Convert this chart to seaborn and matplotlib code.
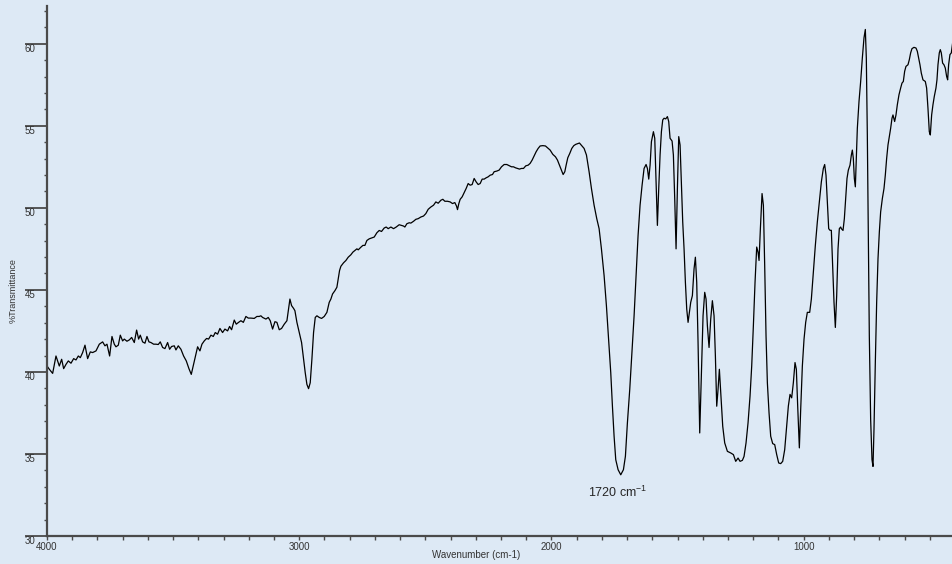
import numpy as np
import pandas as pd
import matplotlib
matplotlib.use("Agg")
import matplotlib.pyplot as plt
from matplotlib.ticker import MultipleLocator
import seaborn as sns

# spectrum, one block per region (cm-1, %T)
wn_oh = [4000.0, 3990.8, 3977.6, 3964.4, 3951.2, 3941.9, 3934.0, 3924.7, 3915.5, 3904.9,
         3894.3, 3885.1, 3875.8, 3867.9, 3858.7, 3849.4, 3838.9, 3828.3, 3819.0, 3805.8,
         3792.6, 3779.4, 3770.2, 3762.2, 3751.7, 3742.4, 3733.2, 3726.6, 3717.3, 3709.4,
         3700.2, 3693.6, 3683.0, 3673.7, 3664.5, 3653.9, 3644.7, 3636.7, 3630.2, 3620.9,
         3611.6, 3603.7, 3595.8, 3587.9, 3577.3, 3568.1, 3558.8, 3550.9, 3541.6, 3532.4,
         3521.8, 3513.9, 3506.0, 3495.4, 3488.8, 3479.5, 3469.0, 3458.4, 3447.8, 3437.3,
         3428.0, 3418.8, 3409.5, 3402.9, 3393.7, 3385.7, 3376.5, 3367.3, 3359.3, 3350.1,
         3340.8, 3332.9, 3323.7, 3314.4, 3303.9, 3294.6, 3284.0, 3276.1, 3268.2, 3257.6,
         3249.7, 3240.5, 3231.2, 3221.6, 3211.4, 3202.1, 3191.6, 3178.4, 3167.8, 3158.6,
         3152.0]
tr_oh = [40.36, 40.16, 39.91, 40.97, 40.36, 40.77, 40.20, 40.46, 40.67, 40.53,
         40.81, 40.73, 40.97, 40.87, 41.18, 41.63, 40.81, 41.22, 41.18, 41.28,
         41.69, 41.83, 41.59, 41.69, 40.97, 42.16, 41.69, 41.53, 41.63, 42.24,
         41.89, 42.00, 41.87, 41.95, 42.10, 41.79, 42.55, 42.00, 42.24, 41.83,
         41.75, 42.16, 41.83, 41.79, 41.69, 41.69, 41.67, 41.83, 41.49, 41.42,
         41.79, 41.38, 41.55, 41.59, 41.34, 41.59, 41.38, 40.97, 40.67, 40.20,
         39.85, 40.46, 41.08, 41.53, 41.28, 41.69, 41.89, 42.04, 42.00, 42.24,
         42.16, 42.40, 42.30, 42.65, 42.40, 42.61, 42.50, 42.77, 42.57, 43.16,
         42.91, 43.02, 43.12, 43.02, 43.38, 43.28, 43.28, 43.26, 43.38, 43.38,
         43.42]

wn_ch = [3145.3, 3132.1, 3122.8, 3114.9, 3105.6, 3096.4, 3088.5, 3079.2, 3070.0, 3059.4,
         3048.8, 3043.5, 3036.9, 3030.3, 3022.4, 3017.1, 3009.2, 3000.0, 2990.7, 2982.8,
         2976.2, 2969.6, 2963.0, 2956.4, 2949.8, 2943.2, 2936.5, 2929.9, 2920.7, 2911.4,
         2900.9, 2890.3, 2881.1, 2874.5, 2867.9, 2858.6, 2850.7, 2845.4, 2840.1, 2834.8,
         2824.3, 2815.0, 2805.8, 2795.2, 2787.3, 2779.4, 2771.4, 2766.1, 2755.6, 2747.6,
         2739.7, 2731.8, 2722.5, 2713.3, 2702.7, 2692.2, 2682.9, 2673.7, 2663.1, 2655.2,
         2647.3, 2636.7, 2626.1, 2615.5, 2603.7, 2594.4, 2586.5, 2581.2, 2573.3, 2564.0,
         2557.4]
tr_ch = [43.32, 43.22, 43.32, 43.12, 42.61, 43.06, 43.02, 42.57, 42.65, 42.91,
         43.12, 43.73, 44.44, 44.04, 43.87, 43.73, 43.02, 42.40, 41.79, 40.77,
         39.95, 39.24, 38.98, 39.34, 40.77, 42.40, 43.32, 43.42, 43.32, 43.26,
         43.38, 43.63, 44.24, 44.44, 44.75, 44.95, 45.16, 45.67, 46.18, 46.44,
         46.65, 46.79, 46.99, 47.14, 47.30, 47.40, 47.50, 47.44, 47.60, 47.71,
         47.71, 48.01, 48.11, 48.16, 48.22, 48.48, 48.62, 48.56, 48.77, 48.83,
         48.73, 48.83, 48.73, 48.83, 48.97, 48.93, 48.89, 48.83, 49.03, 49.09,
         49.07]

wn_mid = [2546.9, 2537.6, 2528.4, 2517.8, 2507.2, 2498.0, 2488.7, 2478.2, 2467.6, 2458.4,
          2449.1, 2438.6, 2430.6, 2422.7, 2412.1, 2401.6, 2392.3, 2383.1, 2376.5, 2372.5,
          2367.2, 2361.9, 2354.0, 2346.1, 2338.2, 2330.2, 2322.3, 2314.4, 2306.5, 2298.5,
          2290.6, 2282.7, 2274.7, 2266.8, 2258.9, 2251.0, 2243.0, 2233.8, 2227.2, 2216.6,
          2207.4, 2198.1, 2187.6, 2177.0, 2166.4, 2158.5, 2150.6, 2142.7, 2134.7, 2126.8,
          2118.9, 2110.9, 2101.7, 2092.4, 2084.5, 2076.6, 2068.7, 2060.7, 2052.8, 2044.9,
          2034.3, 2023.8, 2015.8, 2005.3, 1994.7, 1984.1, 1976.2, 1968.3, 1960.4, 1953.7,
          1947.1, 1941.8, 1935.3, 1927.3, 1919.4, 1911.5, 1903.5, 1895.6, 1889.0, 1882.4]
tr_mid = [49.18, 49.30, 49.34, 49.44, 49.50, 49.65, 49.91, 50.05, 50.16, 50.36,
          50.28, 50.46, 50.52, 50.40, 50.40, 50.36, 50.26, 50.32, 50.11, 49.89,
          50.26, 50.52, 50.67, 50.93, 51.18, 51.48, 51.38, 51.42, 51.79, 51.58,
          51.42, 51.48, 51.75, 51.75, 51.83, 51.89, 51.99, 52.03, 52.20, 52.24,
          52.30, 52.50, 52.64, 52.64, 52.56, 52.50, 52.50, 52.44, 52.40, 52.36,
          52.40, 52.40, 52.56, 52.60, 52.71, 52.91, 53.17, 53.42, 53.62, 53.77,
          53.79, 53.77, 53.66, 53.52, 53.26, 53.11, 52.91, 52.60, 52.30, 52.03,
          52.20, 52.60, 53.05, 53.32, 53.62, 53.79, 53.87, 53.91, 53.95, 53.83]

wn_co = [1870.6, 1861.3, 1850.8, 1841.5, 1831.0, 1820.4, 1811.1, 1801.9, 1791.3, 1782.1,
         1772.8, 1764.9, 1758.3, 1751.7, 1745.1, 1735.8, 1725.3, 1714.7, 1706.8, 1698.9,
         1689.6, 1681.7, 1672.4, 1664.5, 1656.6, 1648.7, 1640.7, 1632.8, 1624.9, 1619.6,
         1614.3, 1609.0, 1603.7, 1595.8, 1590.5, 1585.3, 1580.0, 1574.7, 1569.4, 1564.1,
         1558.8, 1553.6, 1547.0, 1540.3, 1535.1, 1529.8, 1521.8, 1516.6, 1511.3, 1506.0,
         1500.7, 1495.4, 1490.1, 1484.9, 1479.6, 1474.3, 1469.0, 1463.7, 1458.4, 1453.1,
         1447.9, 1441.3, 1434.7, 1429.4, 1424.1, 1418.8, 1412.2, 1405.6, 1399.0, 1392.4,
         1387.1, 1381.8, 1375.2, 1368.6, 1362.0, 1355.4, 1350.1, 1344.8, 1339.5, 1334.3]
tr_co = [53.62, 53.22, 52.20, 51.18, 50.16, 49.34, 48.73, 47.50, 45.87, 44.03,
         41.79, 39.95, 37.91, 36.08, 34.65, 34.04, 33.73, 34.04, 34.86, 36.90,
         38.94, 40.98, 43.42, 45.87, 48.32, 50.16, 51.38, 52.40, 52.64, 52.40,
         51.75, 52.60, 54.03, 54.64, 54.24, 51.58, 48.93, 51.18, 53.22, 54.64,
         55.36, 55.46, 55.42, 55.56, 55.26, 54.24, 54.07, 53.22, 50.56, 47.50,
         51.18, 54.34, 53.83, 51.58, 49.14, 47.50, 45.46, 43.83, 43.02, 43.63,
         44.24, 44.65, 46.28, 46.99, 45.46, 41.79, 36.28, 39.95, 43.42, 44.85,
         44.44, 42.81, 41.49, 43.22, 44.34, 43.42, 40.98, 37.91, 38.94, 40.16]

wn_fp = [1326.3, 1321.0, 1313.1, 1302.5, 1289.3, 1278.7, 1269.5, 1260.2, 1252.3, 1243.1,
         1236.5, 1228.6, 1220.6, 1212.7, 1206.1, 1199.5, 1192.9, 1186.3, 1181.0, 1177.0,
         1171.7, 1165.1, 1159.8, 1154.6, 1149.3, 1144.0, 1137.4, 1130.8, 1122.9, 1114.9,
         1107.0, 1099.1, 1091.2, 1083.2, 1075.3, 1067.4, 1060.8, 1054.2, 1047.6, 1041.0,
         1034.4, 1029.1, 1023.8, 1017.2, 1011.9, 1005.3, 998.7, 992.1, 985.5, 976.2,
         969.6, 961.7, 953.8, 945.9, 937.9, 930.0, 922.1, 916.8, 911.5, 906.2,
         900.9, 895.7, 890.4, 885.1, 879.8, 874.5, 869.2, 863.9, 858.7, 853.4]
tr_fp = [38.12, 36.69, 35.67, 35.16, 35.06, 34.96, 34.55, 34.75, 34.55, 34.61,
         34.85, 35.67, 36.90, 38.53, 40.36, 42.81, 45.46, 47.61, 47.30, 46.79,
         48.73, 50.87, 50.16, 46.48, 42.20, 39.34, 37.51, 36.08, 35.63, 35.57,
         34.96, 34.45, 34.41, 34.55, 35.26, 36.69, 37.92, 38.63, 38.42, 39.34,
         40.57, 40.16, 37.92, 35.37, 37.71, 40.36, 41.99, 43.02, 43.63, 43.63,
         44.44, 46.08, 47.71, 49.14, 50.36, 51.58, 52.40, 52.64, 51.99, 50.36,
         48.73, 48.63, 48.63, 46.48, 44.24, 42.71, 44.65, 47.50, 48.73, 48.83]

wn_low = [850.7, 844.1, 838.8, 833.6, 828.3, 823.0, 816.4, 811.1, 807.1, 803.2,
          799.2, 795.2, 791.3, 787.3, 780.7, 774.1, 767.5, 760.9, 755.6, 751.7,
          747.7, 743.7, 739.8, 734.5, 729.2, 725.2, 721.3, 716.0, 710.7, 705.4,
          700.1, 694.9, 688.2, 681.6, 676.4, 671.1, 665.8, 660.5, 655.2, 649.9,
          646.0, 639.4, 634.1, 628.8, 622.2, 615.6, 610.3, 605.0, 599.7, 594.5,
          586.5, 581.2, 576.0, 570.7, 562.8, 554.8, 549.5, 544.3, 539.0, 533.7,
          527.1, 517.8, 512.6, 507.3, 502.0, 498.0, 492.7, 487.5, 482.2, 475.6,
          471.6, 467.6, 462.4, 458.4, 454.4, 449.2, 443.9, 438.6, 433.3, 429.3,
          425.4, 420.1, 414.8, 409.5]
tr_low = [48.73, 48.62, 49.34, 50.56, 51.79, 52.30, 52.60, 53.21, 53.52, 53.01,
          51.79, 51.28, 53.01, 54.85, 56.48, 57.70, 59.13, 60.36, 60.87, 59.13,
          54.44, 48.32, 42.20, 37.10, 34.65, 34.24, 36.49, 40.57, 44.24, 46.89,
          48.52, 49.75, 50.56, 51.18, 51.99, 53.01, 53.83, 54.34, 54.85, 55.46,
          55.66, 55.26, 55.66, 56.28, 56.89, 57.30, 57.60, 57.70, 58.32, 58.62,
          58.72, 59.03, 59.44, 59.70, 59.78, 59.74, 59.54, 59.13, 58.72, 58.21,
          57.80, 57.70, 57.30, 56.07, 54.64, 54.44, 55.66, 56.28, 56.79, 57.30,
          57.80, 58.72, 59.44, 59.64, 59.44, 58.82, 58.72, 58.52, 58.01, 57.80,
          58.72, 59.34, 59.44, 60.05]

spectrum = pd.DataFrame({
    "wavenumber": np.concatenate([wn_oh, wn_ch, wn_mid, wn_co, wn_fp, wn_low]),
    "transmittance": np.concatenate([tr_oh, tr_ch, tr_mid, tr_co, tr_fp, tr_low]),
})

bg = "#dde9f5"
axis_col = "#4a4a4a"
sns.set_style("ticks", {"axes.facecolor": bg, "figure.facecolor": bg,
                        "axes.edgecolor": axis_col})
plt.rcParams["font.family"] = ["Liberation Sans", "DejaVu Sans"]
plt.rcParams["mathtext.default"] = "regular"

fig = plt.figure(figsize=(9.52, 5.64), dpi=100)
ax = fig.add_axes([47 / 952, 28 / 564, 905 / 952, 530 / 564])

sns.lineplot(data=spectrum, x="wavenumber", y="transmittance", color="black",
             lw=0.9, estimator=None, sort=False, ax=ax)

ax.set_xlim(4000, 412)
ax.set_ylim(30, 62.3)

ax.xaxis.set_major_locator(MultipleLocator(1000))
ax.xaxis.set_minor_locator(MultipleLocator(100))
ax.yaxis.set_major_locator(MultipleLocator(5))
ax.yaxis.set_minor_locator(MultipleLocator(1))

ax.tick_params(axis="y", which="major", length=16, width=1.3, color=axis_col,
               pad=0, labelsize=7, labelcolor="#333333")
ax.tick_params(axis="y", which="minor", length=2.5, width=1, color=axis_col)
ax.tick_params(axis="x", which="both", length=3, width=1, color=axis_col,
               pad=1, labelsize=7, labelcolor="#333333")
plt.setp(ax.get_yticklabels(), ha="left", va="top")

sns.despine(ax=ax)
for side in ["left", "bottom"]:
    ax.spines[side].set_linewidth(1.6)
    ax.spines[side].set_color(axis_col)

ax.set_xlabel("Wavenumber (cm-1)", fontsize=7, color="#333333")
ax.xaxis.set_label_coords(0.474, -0.027)
ax.set_ylabel("%Transmittance", fontsize=6.5, color="#333333")
ax.yaxis.set_label_coords(-0.033, 0.464)

ax.text(1737, 32.63, "1720 cm$^{-1}$", ha="center", va="center", fontsize=9)

fig.savefig("out.png", dpi=100, facecolor=bg)
